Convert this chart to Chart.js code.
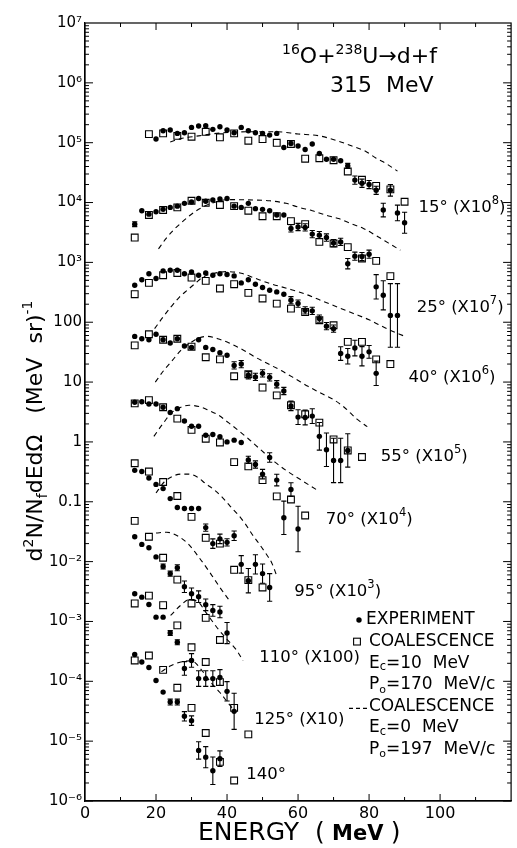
<!DOCTYPE html>
<html>
<head>
<meta charset="utf-8">
<script src="https://cdn.jsdelivr.net/npm/chart.js@4.4.1/dist/chart.umd.min.js"></script>
<style>
  html, body { margin: 0; padding: 0; background: #fff; }
  #wrap { width: 517px; height: 848px; }
</style>
</head>
<body>
<div id="wrap"><canvas id="c" width="517" height="848"></canvas></div>
<script>
// Deuteron spectra, 16O + 238U -> d + f at 315 MeV.
// Each angle: experiment (filled dots, optional error factor), coalescence
// with Ec=10 MeV (open squares) and coalescence with Ec=0 MeV (dashed).
// Values are as plotted, i.e. already multiplied by the factor in the label.

// ---- 15 deg (x1e8)
const exp15E = [20,22,24,26,28,30,32,34,36,38,40,42,44,46,48,50,52,54,56,58,60,62,64,66,68,70,72,74,76,78,80,82,84,86,88,90];
const exp15V = [1.15e5,1.58e5,1.63e5,1.43e5,1.47e5,1.8e5,1.9e5,1.92e5,1.67e5,1.85e5,1.63e5,1.47e5,1.8e5,1.58e5,1.47e5,1.43e5,1.34e5,1.43e5,8.3e4,9.7e4,8.8e4,7.7e4,9.5e4,6.6e4,5.3e4,5.3e4,5.0e4,4.1e4,2.37e4,2.1e4,2.0e4,1.6e4,7.5e3,1.6e4,6.7e3,4.6e3];
const exp15Err = [0,0,0,0,0,0,0,0,0,0,0,0,0,0,0,0,0,0,0,0,0,0,0,0,0,0,0,1.1,1.17,1.17,1.17,1.17,1.3,1.25,1.35,1.5];
const sq15E = [18,22,26,30,34,38,42,46,50,54,58,62,66,70,74,78,82,86,90];
const sq15V = [1.39e5,1.43e5,1.3e5,1.26e5,1.52e5,1.23e5,1.43e5,1.08e5,1.15e5,9.96e4,9.5e4,5.4e4,5.5e4,5.1e4,3.3e4,2.4e4,1.9e4,1.66e4,1.03e4];
const dash15E = [24,27,32,38,46,54,60,66,71,75,79,82,85,88];
const dash15V = [1.03e5,1.17e5,1.3e5,1.45e5,1.52e5,1.52e5,1.4e5,1.3e5,1.08e5,8.9e4,7.2e4,5.5e4,4.4e4,3.35e4];

// ---- 25 deg (x1e7)
const exp25E = [14,16,18,20,22,24,26,28,30,32,34,36,38,40,42,44,46,48,50,52,54,56,58,60,62,64,66,68,70,72,74,76,78,80,82,84,86,88];
const exp25V = [4.35e3,7.3e3,6.4e3,7.0e3,7.7e3,8.3e3,8.7e3,9.7e3,1.02e4,1.17e4,1.05e4,1.1e4,1.15e4,1.17e4,8.7e3,8.3e3,9.7e3,7.9e3,7.7e3,7.3e3,6.2e3,6.2e3,3.7e3,3.9e3,3.84e3,2.97e3,2.85e3,2.6e3,2.1e3,2.2e3,950,1.27e3,1.25e3,1.37e3,390,282,130,130];
const exp25Err = [1.1,0,0,0,0,0,0,0,0,0,0,0,0,0,0,0,0,0,0,0,0,0,1.15,1.15,1.15,1.15,1.15,1.15,1.15,1.15,1.22,1.17,1.17,1.17,1.6,1.75,3.4,3.4];
const sq25E = [14,18,22,26,30,34,38,42,46,50,54,58,62,66,70,74,78,82,86];
const sq25V = [2.6e3,6.2e3,7.5e3,8.3e3,1.07e4,9.9e3,9.1e3,8.7e3,7.3e3,5.9e3,5.9e3,4.9e3,4.35e3,2.2e3,2.07e3,1.8e3,1.16e3,1.06e3,590];
const dash25E = [20.7,22.8,25.1,27.4,29.7,32,34.4,40.4,47.3,52,56.6,60.3,64,67.7,71.4,75.1,78.4,82,85.5,88.8];
const dash25V = [1.68e3,2.5e3,3.55e3,4.75e3,6.2e3,7.7e3,9.1e3,1.12e4,1.1e4,1.07e4,9.7e3,8.3e3,7.3e3,6.2e3,5.4e3,4.4e3,3.7e3,2.8e3,2.1e3,1.6e3];

// ---- 40 deg (x1e6)
const exp40E = [14,16,18,20,22,24,26,28,30,32,34,36,38,40,42,44,46,48,50,52,54,56,58,60,62,64,66,68,70,72,74,76,78,80,82];
const exp40V = [416,513,646,537,721,741,741,646,690,610,665,610,646,627,595,454,513,432,380,343,321,294,233,205,158,155,115,86,78,30,27,37,27,32,14];
const exp40Err = [0,0,0,0,0,0,0,0,0,0,0,0,0,0,0,0,0,0,0,0,0,0,1.15,1.15,1.15,1.15,1.15,1.15,1.15,1.3,1.35,1.35,1.45,1.28,1.6];
const sq40E = [14,18,22,26,30,34,38,42,46,50,54,58,62,66,70,74,78,82,86];
const sq40V = [294,454,610,665,558,490,366,432,309,249,205,169,148,108,89,47,47,24,20];
const dash40E = [19.6,22,24.2,26.6,29,31.2,33,36,40,44,48,52,57,61.6,66.3,71,75.6,80,85,90.4];
const dash40V = [78,123,180,263,351,454,558,650,700,660,540,445,366,302,233,180,140,110,78,57];

// ---- 55 deg (x1e5)
const exp55E = [14,16,18,20,22,24,26,28,30,32,34,36,38,40,42,44,46,48,50,52,54,56,58,60,62,64,66,68,70,72,74];
const exp55V = [58,53,51,63,51,45,53,40,38,51,38,35,31,28,19,20,13,12.2,14,12,9.2,7.1,4.0,2.6,2.56,2.7,1.24,0.74,0.49,0.49,0.72];
const exp55Err = [0,0,0,0,0,0,0,0,0,0,0,0,0,0,1.15,1.15,1.15,1.15,1.15,1.15,1.15,1.15,1.2,1.33,1.33,1.33,1.7,1.9,2.35,2.35,1.9];
const sq55E = [14,18,22,26,30,34,38,42,46,50,54,58,62,66,70,74,78];
const sq55V = [41,63,51,53,39,26,24,12.5,13.5,8.1,6.0,4.1,2.9,2.1,1.1,0.72,0.56];
const dash55E = [19.8,22.2,24.6,27,29.4,32.2,34.6,37.4,40.6,44.3,48,51.7,55.4,59.1,62.8,66.5,70.2,73,76.6,79.5];
const dash55V = [10,15.7,23,34,44,55,58,53,45,35,26,20,15.4,11.5,8.5,6.5,5,3.8,2.4,1.8];

// ---- 70 deg (x1e4)
const exp70E = [14,16,18,20,22,24,26,28,30,32,34,36,38,40,42,44,46,48,50,52,54,56,58,60];
const exp70V = [4.6,4.7,4.3,4.3,3.8,3.1,3.6,2.24,1.83,1.83,1.29,1.33,1.22,1.0,1.07,0.98,0.50,0.42,0.29,0.55,0.23,0.054,0.16,0.035];
const exp70Err = [0,0,0,0,0,0,0,0,0,0,0,0,0,0,0,0,1.15,1.15,1.2,1.2,1.25,1.9,1.3,2.4];
const sq70E = [14,18,22,26,30,34,38,42,46,50,54,58,62];
const sq70V = [4.4,5.0,3.8,2.45,1.59,1.13,0.98,0.46,0.39,0.23,0.123,0.109,0.059];
const dash70E = [19.4,21.9,24.2,26.5,29.3,32.1,34.9,37.6,40.4,43.2,46,49.7,53.5,57.1,60.9,65.5];
const dash70V = [1.24,2.0,3.0,3.7,4.1,3.9,3.35,2.8,2.1,1.55,1.13,0.72,0.46,0.32,0.23,0.155];

// ---- 95 deg (x1e3)
const exp95E = [14,16,18,20,22,24,26,28,30,32,34,36,38,40,42,44,46,48,50,52];
const exp95V = [0.335,0.32,0.25,0.195,0.166,0.113,0.080,0.077,0.077,0.077,0.037,0.02,0.024,0.021,0.027,0.009,0.0048,0.009,0.0063,0.0037];
const exp95Err = [0,0,0,0,0,0,0,0,0,0,1.15,1.2,1.2,1.15,1.2,1.4,1.6,1.45,1.45,1.7];
const sq95E = [14,18,22,26,30,34,38,42,46,50];
const sq95V = [0.44,0.32,0.214,0.125,0.056,0.025,0.02,0.0073,0.0049,0.0037];
const dash95E = [20,22.3,24.7,27,29.3,31.6,34,36.3,38.6,40.9,43.3,45.1,47,49,51,52.6,54];
const dash95V = [0.14,0.214,0.267,0.29,0.29,0.26,0.2,0.16,0.12,0.084,0.059,0.043,0.029,0.02,0.0135,0.0095,0.0058];

// ---- 110 deg (x100)
const exp110E = [14,16,18,20,22,24,26,28,30,32,34,36,38,40];
const exp110V = [0.026,0.0194,0.017,0.012,0.0083,0.0063,0.0079,0.0038,0.0029,0.0026,0.0019,0.00153,0.00144,0.00064];
const exp110Err = [0,0,0,0,1.1,1.1,1.12,1.25,1.25,1.25,1.25,1.25,1.25,1.5];
const sq110E = [14,18,22,26,30,34,38];
const sq110V = [0.048,0.026,0.0116,0.005,0.002,0.00115,0.00049];
const dash110E = [20,23,26,29,32,35,38,41];
const dash110V = [0.030,0.031,0.027,0.02,0.012,0.0068,0.0037,0.0021];

// ---- 125 deg (x10)
const exp125E = [14,16,18,20,22,24,26,28,30,32,34,36,38,40,42];
const exp125V = [2.9e-3,2.55e-3,1.92e-3,1.18e-3,1.18e-3,6.4e-4,4.5e-4,1.64e-4,2.23e-4,1.11e-4,1.11e-4,1.11e-4,1.16e-4,6.8e-5,3.15e-5];
const exp125Err = [0,0,0,0,0,1.1,1.1,1.3,1.3,1.35,1.35,1.35,1.35,1.45,2.0];
const sq125E = [14,18,22,26,30,34,38,42,46];
const sq125V = [2.0e-3,2.7e-3,1.87e-3,8.6e-4,3.7e-4,2.1e-4,9.7e-5,3.6e-5,1.3e-5];
const dash125E = [24.1,26.9,29.2,31.5,34.3,37.1,39.9,42.7,44.5];
const dash125V = [1.26e-3,1.85e-3,2.3e-3,2.2e-3,1.35e-3,8e-4,5.1e-4,3.3e-4,2.2e-4];

// ---- 140 deg (x1)
const exp140E = [14,16,18,20,22,24,26,28,30,32,34,36,38];
const exp140V = [2.8e-4,2.1e-4,1.7e-4,1.03e-4,6.6e-5,4.5e-5,4.5e-5,2.6e-5,2.2e-5,7e-6,5.4e-6,3.2e-6,5.1e-6];
const exp140Err = [0,0,0,0,0,1.12,1.12,1.2,1.2,1.4,1.5,1.7,1.35];
const sq140E = [14,18,22,26,30,34,38,42];
const sq140V = [2.23e-4,2.7e-4,1.55e-4,7.8e-5,3.6e-5,1.37e-5,4.5e-6,2.2e-6];
const dash140E = [21.5,24,27,30,33,35.5,38,40.5,41.6];
const dash140V = [1.45e-4,1.8e-4,2.1e-4,2.2e-4,1.5e-4,9.5e-5,6.5e-5,4.2e-5,3.5e-5];

// ---- axis ticks and curve labels
const xTicks = [0, 20, 40, 60, 80, 100];
const yTicks = [1e7,1e6,1e5,1e4,1e3,100,10,1,0.1,1e-2,1e-3,1e-4,1e-5,1e-6];
const yTickLabels = ['10⁷','10⁶','10⁵','10⁴','10³','100','10','1','0.1','10⁻²','10⁻³','10⁻⁴','10⁻⁵','10⁻⁶'];
const angleNames = ['15°','25°','40°','55°','70°','95°','110°','125°','140°'];
const angleFactor = ['(X10','(X10','(X10','(X10','(X10','(X10','(X100)','(X10)',''];
const angleFactorExp = ['8','7','6','5','4','3','','',''];
const angleLabelE = [93.9,93.4,91.1,83.3,67.8,58.9,49.1,47.7,45.4];
const angleLabelV = [8.1e3,173,11.7,0.56,0.0497,3.1e-3,2.45e-4,2.26e-5,2.7e-6];

const FONT = '"DejaVu Sans", "Liberation Sans", Arial, sans-serif';

const series = [
  [exp15E, exp15V, exp15Err, sq15E, sq15V, dash15E, dash15V],
  [exp25E, exp25V, exp25Err, sq25E, sq25V, dash25E, dash25V],
  [exp40E, exp40V, exp40Err, sq40E, sq40V, dash40E, dash40V],
  [exp55E, exp55V, exp55Err, sq55E, sq55V, dash55E, dash55V],
  [exp70E, exp70V, exp70Err, sq70E, sq70V, dash70E, dash70V],
  [exp95E, exp95V, exp95Err, sq95E, sq95V, dash95E, dash95V],
  [exp110E, exp110V, exp110Err, sq110E, sq110V, dash110E, dash110V],
  [exp125E, exp125V, exp125Err, sq125E, sq125V, dash125E, dash125V],
  [exp140E, exp140V, exp140Err, sq140E, sq140V, dash140E, dash140V]
];

const pts = (xs, ys) => xs.map((x, i) => ({ x: x, y: ys[i] }));

const dashedSets = [], squareSets = [], dotSets = [];
series.forEach((s, k) => {
  dashedSets.push({
    label: 'Ec=0 ' + angleNames[k], data: pts(s[5], s[6]), showLine: true,
    borderColor: '#000', borderWidth: 1.1, borderDash: [5, 4], pointRadius: 0,
    cubicInterpolationMode: 'monotone', fill: false
  });
  squareSets.push({
    label: 'Ec=10 ' + angleNames[k], data: pts(s[3], s[4]), showLine: false,
    pointStyle: 'rect', pointRadius: 4.8, borderWidth: 1.1,
    borderColor: '#000', backgroundColor: 'rgba(0,0,0,0)'
  });
  dotSets.push({
    label: 'exp ' + angleNames[k], data: pts(s[0], s[1]), errs: s[2], showLine: false,
    pointStyle: 'circle', pointRadius: 2.7, borderWidth: 0,
    backgroundColor: '#000', borderColor: '#000'
  });
});

// text made of runs: [text, size, baseline shift, weight]
function drawRuns(ctx, runs, x, y, align) {
  let total = 0;
  const widths = runs.map(r => {
    ctx.font = (r[3] || 'normal') + ' ' + r[1] + 'px ' + FONT;
    const w = ctx.measureText(r[0]).width; total += w; return w;
  });
  let cx = align === 'center' ? x - total / 2 : (align === 'right' ? x - total : x);
  runs.forEach((r, i) => {
    ctx.font = (r[3] || 'normal') + ' ' + r[1] + 'px ' + FONT;
    ctx.fillText(r[0], cx, y + (r[2] || 0));
    cx += widths[i];
  });
}

const decor = {
  id: 'decor',
  afterDatasetsDraw(chart) {
    const ctx = chart.ctx, ys = chart.scales.y;
    ctx.save();
    ctx.strokeStyle = '#000'; ctx.lineWidth = 1.1;
    chart.data.datasets.forEach((ds, di) => {
      if (!ds.errs) return;
      const meta = chart.getDatasetMeta(di);
      ds.data.forEach((p, i) => {
        const f = ds.errs[i];
        if (!f) return;
        const el = meta.data[i];
        const y1 = ys.getPixelForValue(p.y * f), y2 = ys.getPixelForValue(p.y / f);
        ctx.beginPath();
        ctx.moveTo(el.x, y1); ctx.lineTo(el.x, y2);
        ctx.moveTo(el.x - 2.6, y1); ctx.lineTo(el.x + 2.6, y1);
        ctx.moveTo(el.x - 2.6, y2); ctx.lineTo(el.x + 2.6, y2);
        ctx.stroke();
      });
    });
    ctx.restore();
  },
  afterDraw(chart) {
    const ctx = chart.ctx, a = chart.chartArea, xs = chart.scales.x, ys = chart.scales.y;
    ctx.save();
    ctx.strokeStyle = '#000'; ctx.lineWidth = 1.2;
    ctx.strokeRect(a.left, a.top, a.right - a.left, a.bottom - a.top);
    ctx.lineWidth = 1;
    ctx.beginPath();
    for (let k = -6; k < 7; k++) {
      for (let m = 1; m < 10; m++) {
        const py = ys.getPixelForValue(m * Math.pow(10, k));
        const len = m === 1 ? 8 : 4;
        ctx.moveTo(a.left, py); ctx.lineTo(a.left + len, py);
        ctx.moveTo(a.right, py); ctx.lineTo(a.right - len, py);
      }
    }
    for (let e = 10; e < 120; e += 10) {
      const px = xs.getPixelForValue(e);
      const len = e % 20 === 0 ? 7 : 4;
      ctx.moveTo(px, a.bottom); ctx.lineTo(px, a.bottom - len);
      ctx.moveTo(px, a.top); ctx.lineTo(px, a.top + len);
    }
    ctx.stroke();

    ctx.fillStyle = '#000';
    ctx.textBaseline = 'alphabetic';

    // reaction title
    drawRuns(ctx, [['16', 14, -9], ['O+', 22], ['238', 14, -9], ['U→d+f', 22]], a.left + 197, a.top + 40, 'left');
    drawRuns(ctx, [['315  MeV', 22]], a.left + 245, a.top + 69, 'left');

    // angle labels
    ctx.textBaseline = 'middle';
    angleNames.forEach((n, k) => {
      const px = xs.getPixelForValue(angleLabelE[k]);
      const py = ys.getPixelForValue(angleLabelV[k]);
      const runs = [[n + ' ', 16.5]];
      if (angleFactor[k]) runs.push([angleFactor[k], 16.5]);
      if (angleFactorExp[k]) { runs.push([angleFactorExp[k], 11.5, -7]); runs.push([')', 16.5]); }
      drawRuns(ctx, runs, px, py, 'left');
    });

    // key
    const lx = a.left + 284, ty = a.top + 597, dy = 21.6;
    ctx.beginPath(); ctx.arc(lx - 10, ty, 2.7, 0, Math.PI * 2); ctx.fill();
    drawRuns(ctx, [['EXPERIMENT', 17]], lx - 3, ty, 'left');
    ctx.lineWidth = 1.1;
    ctx.strokeRect(lx - 15.4, ty + dy - 3.4, 6.8, 6.8);
    drawRuns(ctx, [['COALESCENCE', 17]], lx, ty + dy, 'left');
    drawRuns(ctx, [['E', 17], ['c', 11.5, 4], ['=10  MeV', 17]], lx, ty + 2 * dy, 'left');
    drawRuns(ctx, [['P', 17], ['o', 11, 5], ['=170  MeV/c', 17]], lx, ty + 3 * dy, 'left');
    ctx.setLineDash([4, 3]);
    ctx.beginPath(); ctx.moveTo(lx - 20, ty + 4 * dy + 2); ctx.lineTo(lx - 1, ty + 4 * dy + 2); ctx.stroke();
    ctx.setLineDash([]);
    drawRuns(ctx, [['COALESCENCE', 17]], lx, ty + 4 * dy, 'left');
    drawRuns(ctx, [['E', 17], ['c', 11.5, 4], ['=0  MeV', 17]], lx, ty + 5 * dy, 'left');
    drawRuns(ctx, [['P', 17], ['o', 11, 5], ['=197  MeV/c', 17]], lx, ty + 6 * dy, 'left');

    // axis titles
    ctx.textBaseline = 'alphabetic';
    drawRuns(ctx, [['ENERGY  (', 25], [' MeV ', 21, 0, 'bold'], [')', 25]], 198, 840, 'left');

    ctx.translate(42, 431);
    ctx.rotate(-Math.PI / 2);
    drawRuns(ctx, [['d', 22], ['2', 14, -9], ['N/N', 22], ['f', 14, 5], ['dEdΩ', 22],
                   ['   (MeV  sr)', 22], ['-1', 14, -10]], 0, 0, 'center');
    ctx.restore();
  }
};

new Chart(document.getElementById('c'), {
  type: 'scatter',
  data: { datasets: [...dashedSets, ...squareSets, ...dotSets] },
  options: {
    responsive: false,
    animation: false,
    events: [],
    layout: { padding: { left: 0, right: 4, top: 23, bottom: 0 } },
    plugins: { legend: { display: false }, tooltip: { enabled: false } },
    scales: {
      x: {
        type: 'linear', min: 0, max: 120,
        afterBuildTicks: s => { s.ticks = xTicks.map(v => ({ value: v })); },
        afterFit: s => { s.height = 47; },
        grid: { display: false, drawTicks: false },
        border: { display: true, color: '#000', width: 1.2 },
        ticks: { color: '#000', padding: 3, font: { family: FONT, size: 16 }, maxRotation: 0 }
      },
      y: {
        type: 'logarithmic', min: 1e-6, max: 1e7,
        afterBuildTicks: s => { s.ticks = yTicks.map(v => ({ value: v })); },
        afterFit: s => { s.width = 85; },
        grid: { display: false, drawTicks: false },
        border: { display: true, color: '#000', width: 1.2 },
        ticks: {
          color: '#000', padding: 3, autoSkip: false, font: { family: FONT, size: 15 },
          callback: (v) => {
            const i = yTicks.findIndex(t => Math.abs(Math.log10(t) - Math.log10(v)) < 1e-6);
            return i >= 0 ? yTickLabels[i] : '';
          }
        }
      }
    }
  },
  plugins: [decor]
});
</script>
</body>
</html>
